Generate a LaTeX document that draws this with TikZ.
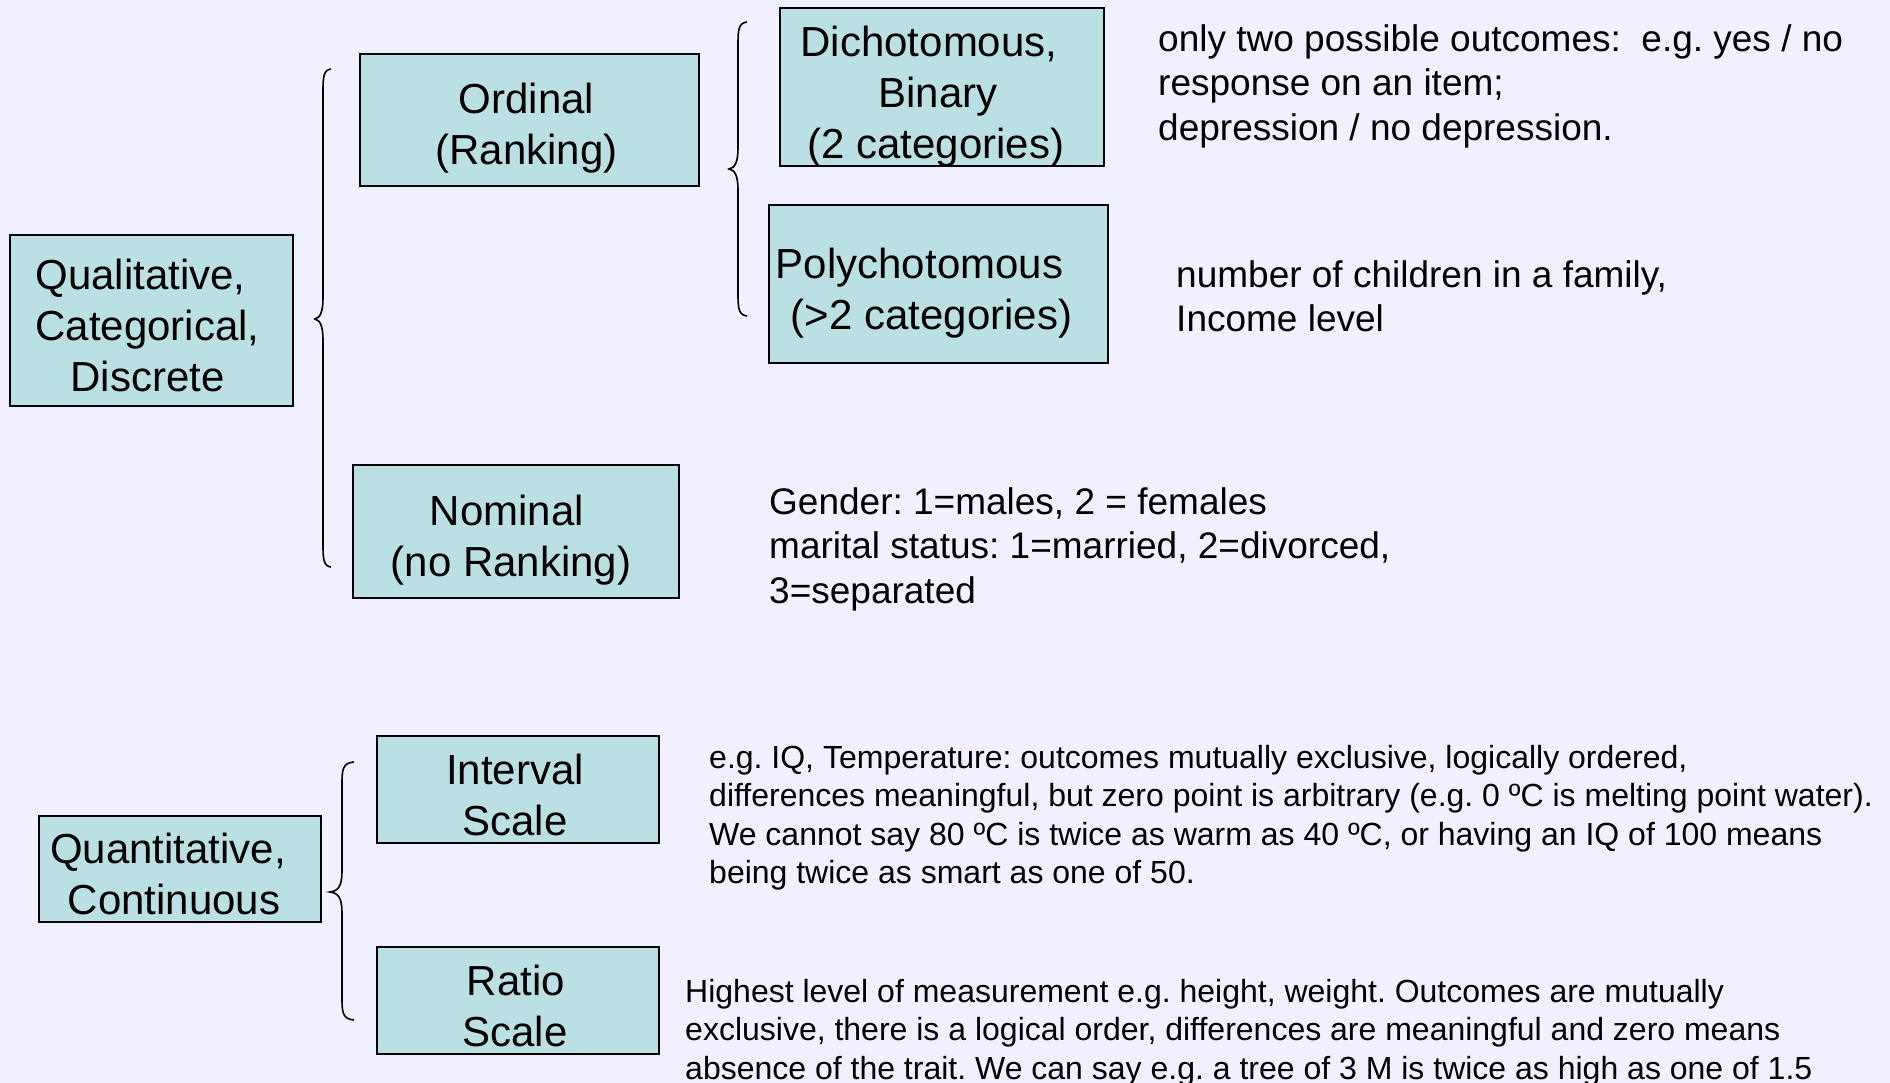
\documentclass[tikz,border=0pt]{standalone}
\usepackage{fontspec}
\setmainfont{Liberation Sans}
\usetikzlibrary{calc}
\definecolor{bg}{RGB}{240,240,255}
\definecolor{boxfill}{RGB}{187,224,227}
\newcommand\drawbrace[5]{% x, top, mid, bot, r
  \draw[brc] ({#1+#5},#2) .. controls ({#1+1},{#2+1}) and (#1,{#2+7}) .. (#1,{#2+21})
    -- (#1,{#3-21}) .. controls (#1,{#3-7}) and ({#1-3},{#3-1}) .. ({#1-#5},#3)
    .. controls ({#1-3},{#3+1}) and (#1,{#3+7}) .. (#1,{#3+21})
    -- (#1,{#4-21}) .. controls (#1,{#4-7}) and ({#1+1},{#4-1}) .. ({#1+#5},#4);}
% shift a centred line left by #1 (pt)
\newcommand\shl[1]{\hspace*{\dimexpr 2\dimexpr #1pt\relax\relax}}
\frenchspacing
\begin{document}
\begin{tikzpicture}[x=1pt,y=-1pt,
  box/.style={draw=black, line width=1.8pt, fill=boxfill, inner sep=0pt},
  boxtext/.style={font=\fontsize{42}{51}\selectfont, align=center, inner sep=0pt},
  desc/.style={font=\fontsize{37}{44.6}\selectfont, align=left, anchor=north west, inner sep=0pt},
  small/.style={font=\fontsize{32}{38.4}\selectfont, align=left, anchor=north west, inner sep=0pt},
  brc/.style={draw=black, line width=1.6pt}]
\useasboundingbox (0,0) rectangle (1890,1083);
\fill[bg] (0,0) rectangle (1890,1083);

% boxes
\node[box, minimum width=283pt, minimum height=171pt] (qual) at (151.5,320.5) {};
\node[box, minimum width=339pt, minimum height=132pt] (ord) at (529.5,120) {};
\node[box, minimum width=324pt, minimum height=158pt] (dich) at (942,87) {};
\node[box, minimum width=339pt, minimum height=158pt] (poly) at (938.5,284) {};
\node[box, minimum width=326pt, minimum height=133pt] (nom) at (516,531.5) {};
\node[box, minimum width=282pt, minimum height=107pt] (int) at (518,789.5) {};
\node[box, minimum width=282pt, minimum height=107pt] (rat) at (518,1000.5) {};
\node[box, minimum width=282pt, minimum height=106pt] (quan) at (180,869) {};

% box texts
\node[boxtext] (qualt) at ($(qual)+(-4,5)$) {Qualitative,\shl{7}\\Categorical,\shl{1.5}\\Discrete};
\node[boxtext] (ordt) at ($(ord)+(-3,8)$) {Ordinal\\(Ranking)};
\node[boxtext] (dicht) at ($(dich)+(-4,10)$) {Dichotomous,\shl{9}\\Binary\\(2 categories)\shl{2}};
\node[boxtext] (polyt) at ($(poly)+(-7,9)$) {Polychotomous\shl{12}\\(>2 categories)};
\node[boxtext] (nomt) at ($(nom)+(-5,9)$) {Nominal\shl{4}\\(no Ranking)};
\node[boxtext] (intt) at ($(int)+(-3,5)$) {Interval\\Scale};
\node[boxtext] (ratt) at ($(rat)+(-2,5)$) {Ratio\\Scale\shl{1}};
\node[boxtext] (quant) at ($(quan)+(-6,5)$) {Quantitative,\shl{6}\\Continuous};

% braces
\drawbrace{323}{69}{319}{567}{8}
\drawbrace{738}{22}{169}{316}{9}
\drawbrace{342}{762}{892}{1020}{12}

% descriptions
\node[desc] (dtxt) at (1158,24) {only two possible outcomes:\ \ e.g. yes / no\\response on an item;\\depression / no depression.};
\node[desc] (ptxt) at (1176,260) {number of children in a family,\\Income level};
\node[desc] (ntxt) at (769,487) {Gender: 1=males, 2 = females\\marital status: 1=married, 2=divorced,\\3=separated};
\node[small] (itxt) at (709,745) {e.g. IQ, Temperature: outcomes mutually exclusive, logically ordered,\\differences meaningful, but zero point is arbitrary (e.g. 0 ºC is melting point water).\\We cannot say 80 ºC is twice as warm as 40 ºC, or having an IQ of 100 means\\being twice as smart as one of 50.};
\node[small] (rtxt) at (685,979) {Highest level of measurement e.g. height, weight. Outcomes are mutually\\exclusive, there is a logical order, differences are meaningful and zero means\\absence of the trait. We can say e.g. a tree of 3 M is twice as high as one of 1.5};
\end{tikzpicture}
\end{document}
